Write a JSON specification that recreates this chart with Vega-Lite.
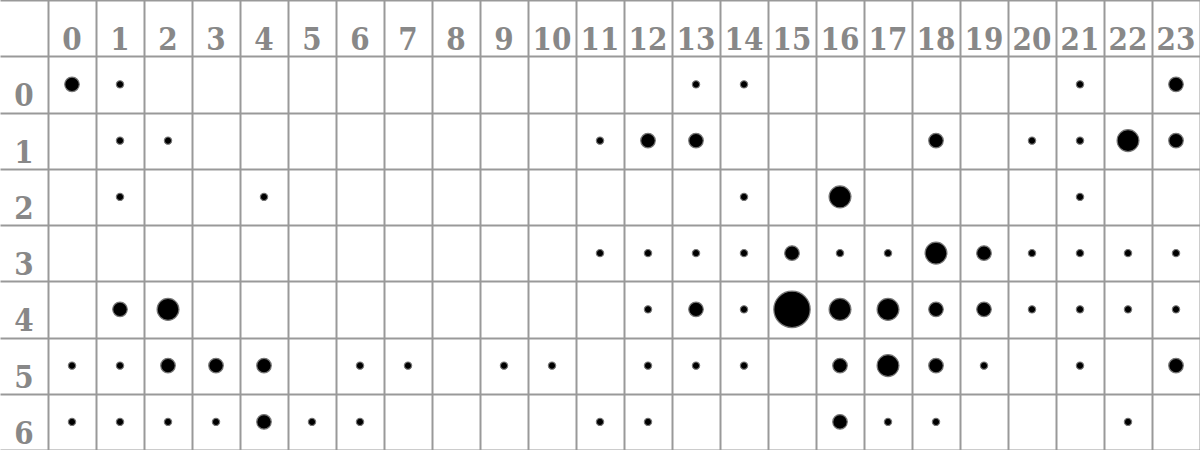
{
  "$schema": "https://vega.github.io/schema/vega-lite/v6.json",
  "width": 1200,
  "height": 450,
  "padding": 0,
  "autosize": {"type": "fit", "contains": "padding"},
  "background": "white",
  "config": {"view": {"stroke": null}},
  "datasets": {
    "cells": [
      {"day": 0, "hour": 0, "count": 2}, {"day": 0, "hour": 1, "count": 1}, {"day": 0, "hour": 13, "count": 1}, {"day": 0, "hour": 14, "count": 1}, {"day": 0, "hour": 21, "count": 1}, {"day": 0, "hour": 23, "count": 2},
      {"day": 1, "hour": 1, "count": 1}, {"day": 1, "hour": 2, "count": 1}, {"day": 1, "hour": 11, "count": 1}, {"day": 1, "hour": 12, "count": 2}, {"day": 1, "hour": 13, "count": 2}, {"day": 1, "hour": 18, "count": 2}, {"day": 1, "hour": 20, "count": 1}, {"day": 1, "hour": 21, "count": 1}, {"day": 1, "hour": 22, "count": 3}, {"day": 1, "hour": 23, "count": 2},
      {"day": 2, "hour": 1, "count": 1}, {"day": 2, "hour": 4, "count": 1}, {"day": 2, "hour": 14, "count": 1}, {"day": 2, "hour": 16, "count": 3}, {"day": 2, "hour": 21, "count": 1},
      {"day": 3, "hour": 11, "count": 1}, {"day": 3, "hour": 12, "count": 1}, {"day": 3, "hour": 13, "count": 1}, {"day": 3, "hour": 14, "count": 1}, {"day": 3, "hour": 15, "count": 2}, {"day": 3, "hour": 16, "count": 1}, {"day": 3, "hour": 17, "count": 1}, {"day": 3, "hour": 18, "count": 3}, {"day": 3, "hour": 19, "count": 2}, {"day": 3, "hour": 20, "count": 1}, {"day": 3, "hour": 21, "count": 1}, {"day": 3, "hour": 22, "count": 1}, {"day": 3, "hour": 23, "count": 1},
      {"day": 4, "hour": 1, "count": 2}, {"day": 4, "hour": 2, "count": 3}, {"day": 4, "hour": 12, "count": 1}, {"day": 4, "hour": 13, "count": 2}, {"day": 4, "hour": 14, "count": 1}, {"day": 4, "hour": 15, "count": 5}, {"day": 4, "hour": 16, "count": 3}, {"day": 4, "hour": 17, "count": 3}, {"day": 4, "hour": 18, "count": 2}, {"day": 4, "hour": 19, "count": 2}, {"day": 4, "hour": 20, "count": 1}, {"day": 4, "hour": 21, "count": 1}, {"day": 4, "hour": 22, "count": 1}, {"day": 4, "hour": 23, "count": 1},
      {"day": 5, "hour": 0, "count": 1}, {"day": 5, "hour": 1, "count": 1}, {"day": 5, "hour": 2, "count": 2}, {"day": 5, "hour": 3, "count": 2}, {"day": 5, "hour": 4, "count": 2}, {"day": 5, "hour": 6, "count": 1}, {"day": 5, "hour": 7, "count": 1}, {"day": 5, "hour": 9, "count": 1}, {"day": 5, "hour": 10, "count": 1}, {"day": 5, "hour": 12, "count": 1}, {"day": 5, "hour": 13, "count": 1}, {"day": 5, "hour": 14, "count": 1}, {"day": 5, "hour": 16, "count": 2}, {"day": 5, "hour": 17, "count": 3}, {"day": 5, "hour": 18, "count": 2}, {"day": 5, "hour": 19, "count": 1}, {"day": 5, "hour": 21, "count": 1}, {"day": 5, "hour": 23, "count": 2},
      {"day": 6, "hour": 0, "count": 1}, {"day": 6, "hour": 1, "count": 1}, {"day": 6, "hour": 2, "count": 1}, {"day": 6, "hour": 3, "count": 1}, {"day": 6, "hour": 4, "count": 2}, {"day": 6, "hour": 5, "count": 1}, {"day": 6, "hour": 6, "count": 1}, {"day": 6, "hour": 11, "count": 1}, {"day": 6, "hour": 12, "count": 1}, {"day": 6, "hour": 16, "count": 2}, {"day": 6, "hour": 17, "count": 1}, {"day": 6, "hour": 18, "count": 1}, {"day": 6, "hour": 22, "count": 1}
    ],
    "hours": [
      {"hour": 0}, {"hour": 1}, {"hour": 2}, {"hour": 3}, {"hour": 4}, {"hour": 5}, {"hour": 6}, {"hour": 7}, {"hour": 8}, {"hour": 9}, {"hour": 10}, {"hour": 11},
      {"hour": 12}, {"hour": 13}, {"hour": 14}, {"hour": 15}, {"hour": 16}, {"hour": 17}, {"hour": 18}, {"hour": 19}, {"hour": 20}, {"hour": 21}, {"hour": 22}, {"hour": 23}
    ],
    "days": [
      {"day": 0}, {"day": 1}, {"day": 2}, {"day": 3}, {"day": 4}, {"day": 5}, {"day": 6}
    ]
  },
  "layer": [
    {
      "data": {"name": "cells"},
      "mark": {"type": "circle", "color": "black", "opacity": 1, "stroke": "#777777", "strokeWidth": 1.2},
      "encoding": {
        "x": {
          "field": "hour", "type": "quantitative",
          "scale": {"domain": [-1.5, 23.5], "nice": false, "zero": false},
          "axis": {"title": null, "grid": true, "gridColor": "#999999", "gridWidth": 2, "gridOpacity": 1, "labels": false, "ticks": false, "domain": false,
            "values": [-0.5, 0.5, 1.5, 2.5, 3.5, 4.5, 5.5, 6.5, 7.5, 8.5, 9.5, 10.5, 11.5, 12.5, 13.5, 14.5, 15.5, 16.5, 17.5, 18.5, 19.5, 20.5, 21.5, 22.5, 23.5]}
        },
        "y": {
          "field": "day", "type": "quantitative",
          "scale": {"domain": [-1.5, 6.5], "nice": false, "zero": false, "reverse": true},
          "axis": {"title": null, "grid": true, "gridColor": "#999999", "gridWidth": 2, "gridOpacity": 1, "labels": false, "ticks": false, "domain": false,
            "values": [-1.5, -0.5, 0.5, 1.5, 2.5, 3.5, 4.5, 5.5, 6.5]}
        },
        "size": {
          "field": "count", "type": "quantitative",
          "scale": {"type": "pow", "exponent": 2, "domain": [0, 5], "range": [0, 1320]},
          "legend": null
        }
      }
    },
    {
      "data": {"name": "hours"},
      "mark": {"type": "text", "font": "DejaVu Serif Condensed", "fontWeight": "bold", "fontSize": 31, "color": "#888888", "align": "center", "baseline": "alphabetic", "dy": 22},
      "encoding": {
        "x": {"field": "hour", "type": "quantitative"},
        "y": {"datum": -1, "type": "quantitative"},
        "text": {"field": "hour", "type": "nominal"}
      }
    },
    {
      "data": {"name": "days"},
      "mark": {"type": "text", "font": "DejaVu Serif Condensed", "fontWeight": "bold", "fontSize": 31, "color": "#888888", "align": "center", "baseline": "alphabetic", "dy": 22},
      "encoding": {
        "x": {"datum": -1, "type": "quantitative"},
        "y": {"field": "day", "type": "quantitative"},
        "text": {"field": "day", "type": "nominal"}
      }
    }
  ]
}
